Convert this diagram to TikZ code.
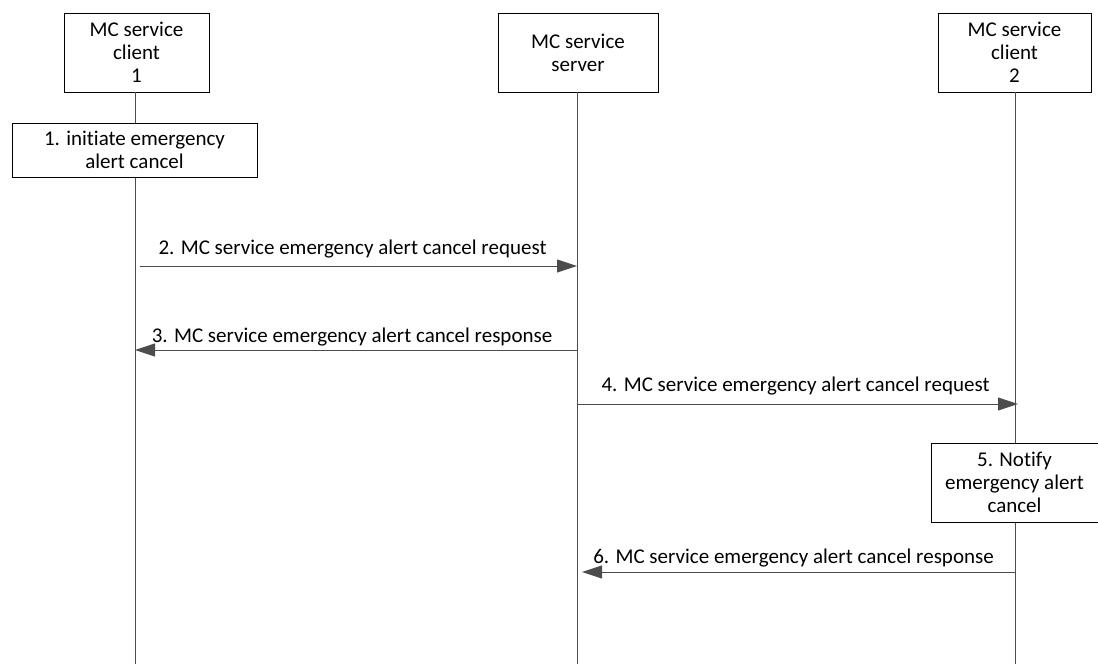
\documentclass[tikz,border=0pt]{standalone}
\usepackage{fontspec}
\setmainfont[Ligatures=NoCommon]{Carlito}
\usetikzlibrary{arrows.meta}
\begin{document}
\begin{tikzpicture}[x=1pt,y=-1pt,
  every node/.style={font=\fontsize{21}{23}\selectfont},
  actor/.style={draw=black,line width=0.8pt,fill=white,align=center,inner sep=0pt},
  life/.style={draw=black!70,line width=0.9pt},
  msg/.style={draw=black!65,line width=0.9pt,-{Triangle[length=20pt,width=13pt]},color=black!70},
  lbl/.style={text=black,inner sep=0pt,anchor=base}]
\useasboundingbox (0,0) rectangle (1098,664);
% actors
\node[actor,minimum width=145,minimum height=79] (c1) at (136.5,52.5) {MC service\\client\\1};
\node[actor,minimum width=160,minimum height=79] (srv) at (578,52.5) {MC service\\server};
\node[actor,minimum width=153,minimum height=79] (c2) at (1014.5,52.5) {MC service\\client\\2};
% lifeline bottoms
\coordinate (b1) at (135,664);
\coordinate (bs) at (577,664);
\coordinate (b2) at (1015,664);
% lifelines
\draw[life] (135,92) -- (b1);
\draw[life] (577,92) -- (bs);
\draw[life] (1015,92) -- (b2);
% step boxes
\node[actor,minimum width=245,minimum height=54] (s1) at (134.5,150) {1. initiate emergency\\alert cancel};
\node[actor,minimum width=167,minimum height=79] (s5) at (1014.5,482.5) {5. Notify\\emergency alert\\cancel};
% messages
\coordinate (m2a) at (140,266); \coordinate (m2b) at (577,266);
\coordinate (m3a) at (577,350); \coordinate (m3b) at (135,350);
\coordinate (m4a) at (577,404); \coordinate (m4b) at (1018,404);
\coordinate (m6a) at (1015,572); \coordinate (m6b) at (582,572);
\draw[msg] (m2a) -- node[lbl,yshift=12pt,xshift=-6pt] {2. MC service emergency alert cancel request} (m2b);
\draw[msg] (m3a) -- node[lbl,yshift=8pt,xshift=-4pt] {3. MC service emergency alert cancel response} (m3b);
\draw[msg] (m4a) -- node[lbl,yshift=13pt,xshift=-2pt] {4. MC service emergency alert cancel request} (m4b);
\draw[msg] (m6a) -- node[lbl,yshift=9pt,xshift=-5pt] {6. MC service emergency alert cancel response} (m6b);
\end{tikzpicture}
\end{document}
